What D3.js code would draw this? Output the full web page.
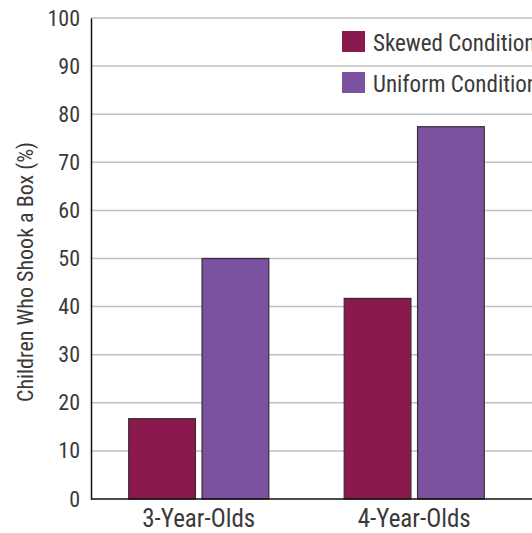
<!DOCTYPE html>
<html>
<head>
<meta charset="utf-8">
<script src="https://cdn.jsdelivr.net/npm/d3@7"></script>
<style>
  body { margin: 0; background: #fff; overflow: hidden; }
  svg text { font-family: "Roboto Condensed", Roboto, sans-serif; font-stretch: condensed; fill: #3a3a3a; }
</style>
</head>
<body>
<svg id="chart" width="532" height="533"></svg>
<script>
var ageGroups = ["3-Year-Olds", "4-Year-Olds"];
var conditions = ["Skewed Condition", "Uniform Condition"];
var skewedValues = [16.7, 41.7];
var uniformValues = [50, 77.4];
var yTicks = [0, 10, 20, 30, 40, 50, 60, 70, 80, 90, 100];
var conditionColors = ["#8a1a4e", "#7b52a0"];

var svg = d3.select("#chart");
var plotLeft = 91, plotRight = 522, plotTop = 18, plotBottom = 499;

var x0 = d3.scaleBand().domain(ageGroups).range([plotLeft, plotRight]).paddingInner(0.35).paddingOuter(0.175);
var x1 = d3.scaleBand().domain(conditions).range([0, x0.bandwidth()]).paddingInner(0.09);
var y = d3.scaleLinear().domain([0, 100]).range([plotBottom, plotTop]);

// gridlines
svg.append("g").selectAll("line")
    .data(yTicks.filter(function (d) { return d > 0; }))
    .enter().append("line")
    .attr("x1", plotLeft).attr("x2", 532)
    .attr("y1", function (d) { return y(d); })
    .attr("y2", function (d) { return y(d); })
    .attr("stroke", "#c0c0c0").attr("stroke-width", 1.5);

var rows = ageGroups.map(function (g, i) {
    return { group: g, values: [skewedValues[i], uniformValues[i]] };
});

svg.append("g").selectAll("g")
    .data(rows)
    .enter().append("g")
    .attr("transform", function (d) { return "translate(" + x0(d.group) + ",0)"; })
    .selectAll("rect")
    .data(function (d) { return d.values.map(function (v, j) { return { cond: conditions[j], v: v, j: j }; }); })
    .enter().append("rect")
    .attr("x", function (d) { return x1(d.cond); })
    .attr("width", x1.bandwidth())
    .attr("y", function (d) { return y(d.v); })
    .attr("height", function (d) { return plotBottom - y(d.v); })
    .attr("fill", function (d) { return conditionColors[d.j]; })
    .attr("stroke", "#3a2a35").attr("stroke-width", 1.2);

// y axis
var yAxis = svg.append("g")
    .attr("transform", "translate(" + plotLeft + ",0)")
    .call(d3.axisLeft(y).tickValues(yTicks).tickSize(0).tickPadding(11));
yAxis.select(".domain").attr("stroke", "#111").attr("stroke-width", 1.5);
yAxis.selectAll("text").style("font-size", "22px").attr("fill", "#3a3a3a");

// x axis
var xAxis = svg.append("g")
    .attr("transform", "translate(0," + plotBottom + ")")
    .call(d3.axisBottom(x0).tickSize(0).tickPadding(10));
xAxis.select(".domain").remove();
xAxis.selectAll("text").style("font-size", "25px").attr("fill", "#3a3a3a");
svg.append("line")
    .attr("x1", plotLeft).attr("x2", 532)
    .attr("y1", plotBottom).attr("y2", plotBottom)
    .attr("stroke", "#111").attr("stroke-width", 1.5);

// y label
svg.append("text")
    .attr("transform", "translate(33,272) rotate(-90)")
    .attr("text-anchor", "middle")
    .style("font-size", "22px")
    .text("Children Who Shook a Box (%)");

// legend (clipped at the right edge, as in the original)
var legend = svg.append("g").selectAll("g")
    .data(conditions)
    .enter().append("g")
    .attr("transform", function (d, i) { return "translate(342," + (31 + i * 41) + ")"; });
legend.append("rect")
    .attr("width", 23).attr("height", 21)
    .attr("fill", function (d, i) { return conditionColors[i]; });
legend.append("text")
    .attr("x", 31).attr("y", 20)
    .style("font-size", "23px")
    .text(function (d) { return d; });
</script>
</body>
</html>
